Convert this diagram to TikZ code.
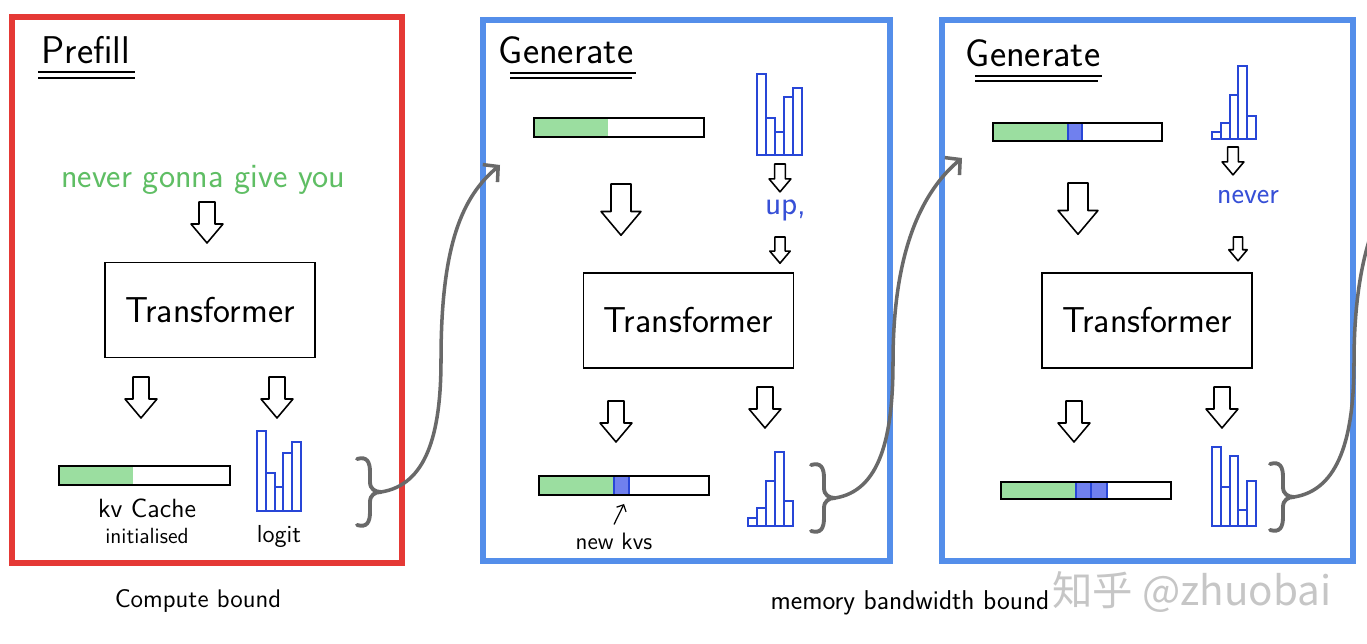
\documentclass[tikz,border=0pt]{standalone}
\usepackage{fontspec}
\newfontfamily\cjkfont{Noto Sans CJK SC}
\usetikzlibrary{arrows.meta}

\definecolor{framered}{RGB}{229,57,53}
\definecolor{frameblue}{RGB}{84,142,234}
\definecolor{kvgreen}{RGB}{155,222,160}
\definecolor{kvblue}{RGB}{112,128,238}
\definecolor{histblue}{RGB}{40,70,215}
\definecolor{tokgreen}{RGB}{95,190,100}
\definecolor{tokblue}{RGB}{55,80,215}
\definecolor{curvegray}{RGB}{105,105,105}

\tikzset{
  frame/.style={line width=3.4pt},
  tbox/.style={draw,line width=0.8pt,minimum width=4.2cm,minimum height=1.9cm,
    font=\sffamily\fontsize{20.5}{22}\selectfont},
  kvbar/.style={draw,line width=1.1pt},
  newkv/.style={fill=kvblue,draw=histblue,line width=0.6pt},
  histbar/.style={draw=histblue,line width=1.1pt},
  blockarrow/.style={draw,line width=0.9pt,fill=white,line join=round},
  flow/.style={draw=curvegray,line width=2pt,line cap=round,
    -{Straight Barb[length=6pt,width=13pt,line width=2pt]}},
  bracket/.style={draw=curvegray,line width=2.2pt,line cap=round},
  hand/.style={font=\sffamily\fontsize{#1}{#1}\selectfont},
  pics/down/.style={code={
    \draw[blockarrow] (-8,0) -- (8,0) -- (8,22) -- (16,22) -- (0,41)
      -- (-16,22) -- (-8,22) -- cycle;
  }},
  pics/curly/.style={code={
    \draw[bracket] (-24,-33) .. controls (-14,-36) and (-11,-30) .. (-11,-20)
      -- (-11,-10) .. controls (-11,-3) and (-6,0) .. (0,0);
    \draw[bracket] (-24,33) .. controls (-14,36) and (-11,30) .. (-11,20)
      -- (-11,10) .. controls (-11,3) and (-6,0) .. (0,0);
  }},
}

\begin{document}
\begin{tikzpicture}[x=0.02cm,y=-0.02cm]
    \fill[white] (0,0) rectangle (1367,644);
    \useasboundingbox (0,0) rectangle (1367,644);

    % frames
    \draw[frame,framered] (12,17) rectangle (402,563);
    \draw[frame,frameblue] (483,20) rectangle (890,561);
    \draw[frame,frameblue] (942,20) rectangle (1353,561);

    % titles
    \node[hand=22] (pre) at (86,50) {Prefill};
    \draw[thick] (38,72) -- (135,72) (38,78) -- (135,78);
    \node[hand=22] (gen2) at (566,50) {Generate};
    \draw[thick] (510,73) -- (636,73) (510,78) -- (632,78);
    \node[hand=22] (gen3) at (1033,53) {Generate};
    \draw[thick] (975,76) -- (1102,76) (975,81) -- (1098,81);

    % prefill
    \node[hand=19.5,text=tokgreen] (prompt) at (203,180) {never gonna give you};
    \pic at (207,202) {down};
    \node[tbox] (tf1) at (210,310) {Transformer};
    \pic at (141,377) {down};
    \pic at (277,377) {down};
    \fill[kvgreen] (59,466) rectangle (133,485);
    \draw[kvbar] (59,466) rectangle (230,485);
    \foreach \h [count=\i from 0] in {80,38,24,58,69}
        \draw[histbar] (257+\i*8.8,511) rectangle ++(8.8,-\h);
    \node[hand=15] (kvlab) at (147,508) {kv Cache};
    \node[hand=12.5] (kvinit) at (147,536) {initialised};
    \node[hand=14] (logit) at (279,536) {logit};
    \pic at (381,492) {curly};
    \coordinate (b1) at (381,492);
    \node[hand=14.5] (cb) at (198,601) {Compute bound};

    % generate 1
    \fill[kvgreen] (534,118) rectangle (608,137);
    \draw[kvbar] (534,118) rectangle (704,137);
    \foreach \h [count=\i from 0] in {81,37,23,58,67}
        \draw[histbar] (757+\i*9,155) rectangle ++(9,-\h);
    \pic[scale=0.68] at (780,164) {down};
    \node[hand=19,text=tokblue] (up) at (786,210) {up,};
    \pic[scale=0.64] at (780,237) {down};
    \pic[scale=1.25] at (621,184) {down};
    \node[tbox] (tf2) at (688.5,320.5) {Transformer};
    \pic at (616,401) {down};
    \pic at (765,387) {down};
    \fill[kvgreen] (539,476) rectangle (614,495);
    \fill[newkv] (614,476) rectangle (629,495);
    \draw[kvbar] (539,476) rectangle (709,495);
    \foreach \h [count=\i from 0] in {8,18,45,74,25}
        \draw[histbar] (748+\i*9,526) rectangle ++(9,-\h);
    \node[hand=13.5] (newkvs) at (614,541) {new kvs};
    \coordinate (kvslot) at (624,504);
    \draw[line width=0.7pt,-{Straight Barb[length=3pt,width=6pt]}] (newkvs.north) ++(0,-2) -- (kvslot);
    \pic at (835,498) {curly};
    \coordinate (b2) at (835,498);
    \coordinate (in2) at (500,165);
    \draw[flow] (b1) .. controls +(45,-7) and +(0,75) .. (441,360)
        .. controls +(0,-115) and +(-38,32) .. (in2);

    % generate 2
    \fill[kvgreen] (993,123) rectangle (1068,141);
    \fill[newkv] (1068,123) rectangle (1082,141);
    \draw[kvbar] (993,123) rectangle (1162,141);
    \foreach \h [count=\i from 0] in {7,16,44,73,23}
        \draw[histbar] (1212+\i*8.8,139) rectangle ++(8.8,-\h);
    \pic[scale=0.68] at (1233,147) {down};
    \node[hand=17,text=tokblue] (nev) at (1248,197) {never};
    \pic[scale=0.58] at (1238,237) {down};
    \pic[scale=1.25] at (1078,183) {down};
    \node[tbox] (tf3) at (1147,320.5) {Transformer};
    \pic at (1074,401) {down};
    \pic at (1222,387) {down};
    \fill[kvgreen] (1001,482) rectangle (1076,499);
    \fill[newkv] (1076,482) rectangle (1091,499);
    \fill[newkv] (1091,482) rectangle (1107,499);
    \draw[kvbar] (1001,482) rectangle (1171,499);
    \foreach \h [count=\i from 0] in {79,39,70,16,45}
        \draw[histbar] (1212+\i*8.8,526) rectangle ++(8.8,-\h);
    \pic at (1294,497) {curly};
    \coordinate (b3) at (1294,497);
    \coordinate (in3) at (962,158);
    \draw[flow] (b2) .. controls +(45,-7) and +(0,75) .. (893,362)
        .. controls +(0,-115) and +(-38,32) .. (in3);
    \begin{scope}
        \clip (0,0) rectangle (1367,644);
        \coordinate (out3) at (1421,158);
        \draw[flow] (b3) .. controls +(45,-7) and +(0,75) .. (1354,362)
            .. controls +(0,-115) and +(-38,32) .. (out3);
    \end{scope}

    % bottom notes
    \node[hand=15.5] (mb) at (910,603) {memory bandwidth bound};
    \node[font=\cjkfont\fontsize{23}{23}\selectfont,text=gray!45] (mark) at (1192,592) {知乎\ @zhuobai};
\end{tikzpicture}
\end{document}
